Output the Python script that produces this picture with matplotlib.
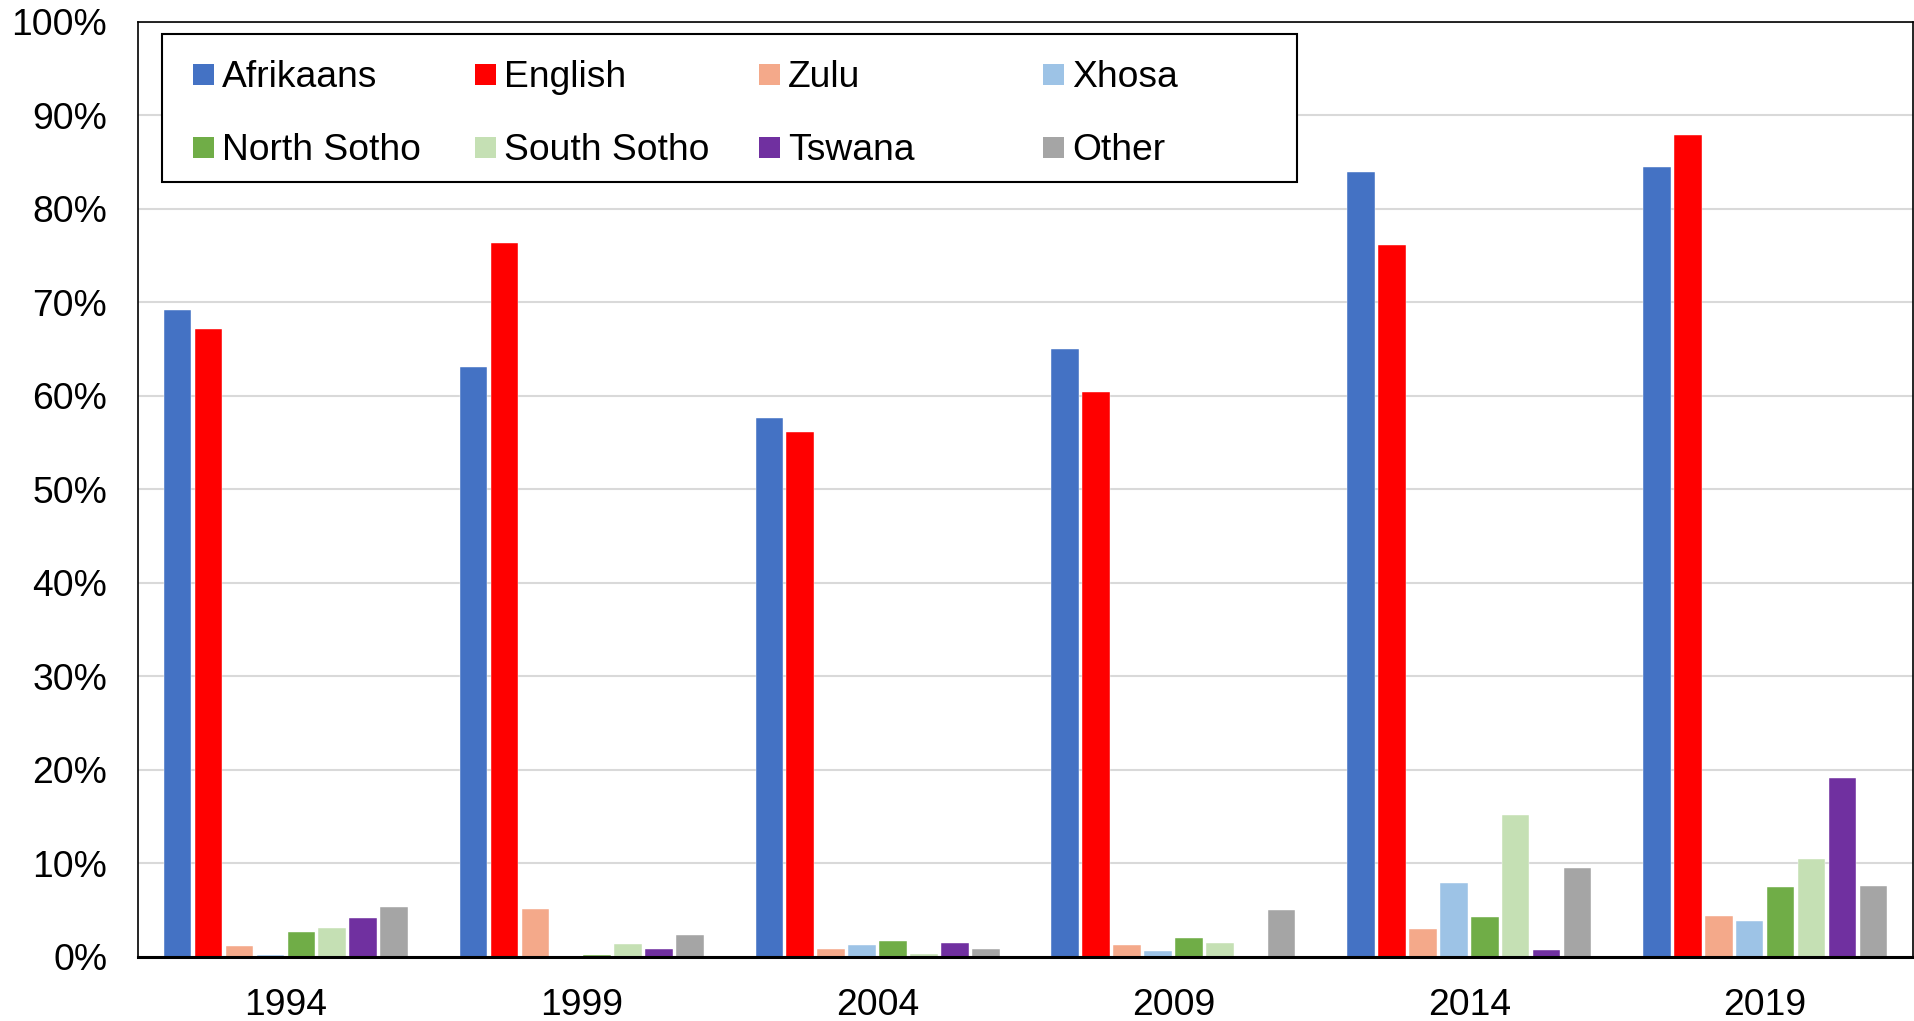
#!/usr/bin/env python
"""
Grouped bar chart: share by language per election year
"""

import numpy as np
import matplotlib
matplotlib.use("Agg")
import matplotlib.pyplot as plt
from matplotlib.patches import Rectangle
from matplotlib.ticker import PercentFormatter

plt.rcParams["font.family"] = ["Liberation Sans", "DejaVu Sans"]

years = ["1994", "1999", "2004", "2009", "2014", "2019"]
languages = ["Afrikaans", "English", "Zulu", "Xhosa",
             "North Sotho", "South Sotho", "Tswana", "Other"]

# values in percent, one list per language
afrikaans = [69.2, 63.1, 57.6, 65.0, 83.9, 84.5]
english = [67.2, 76.4, 56.1, 60.4, 76.1, 87.9]
zulu = [1.2, 5.1, 0.9, 1.3, 3.0, 4.4]
xhosa = [0.25, 0.15, 1.25, 0.6, 7.9, 3.8]
north_sotho = [2.7, 0.2, 1.75, 2.0, 4.25, 7.5]
south_sotho = [3.1, 1.4, 0.35, 1.5, 15.2, 10.5]
tswana = [4.2, 0.9, 1.5, 0.0, 0.8, 19.1]
other = [5.3, 2.4, 0.9, 5.0, 9.5, 7.6]

series = [afrikaans, english, zulu, xhosa, north_sotho, south_sotho, tswana, other]
colors = ["#4472C4", "#FF0000", "#F4A98A", "#9DC3E6",
          "#70AD47", "#C5E0B4", "#7030A0", "#A5A5A5"]

FONT_SIZE = 26.8
PITCH = 0.1045
BAR_WIDTH = 0.093


def main():
    fig = plt.figure(figsize=(19.15, 10.21), dpi=100)
    ax = fig.add_axes([0.072, 0.0627, 0.927, 0.9158])

    x = np.arange(len(years))
    n = len(series)
    for i, (vals, col) in enumerate(zip(series, colors)):
        offset = (i - (n - 1) / 2) * PITCH
        ax.bar(x + offset, np.array(vals) / 100.0, width=BAR_WIDTH,
               color=col, edgecolor="white", linewidth=0.3, zorder=3)

    ax.set_xlim(-0.5, len(years) - 0.5)
    ax.set_ylim(0, 1.0)
    ax.set_yticks(np.arange(0, 1.01, 0.1))
    ax.yaxis.set_major_formatter(PercentFormatter(1.0, decimals=0))
    ax.set_xticks(x)
    ax.set_xticklabels(years)
    ax.tick_params(axis="both", length=0, labelsize=FONT_SIZE)
    ax.tick_params(axis="y", pad=22)
    ax.tick_params(axis="x", pad=22)

    ax.grid(axis="y", color="#D9D9D9", linewidth=1.5, zorder=0)
    for side in ["left", "top", "right"]:
        ax.spines[side].set_linewidth(1.2)
        ax.spines[side].set_color("black")
    ax.spines["bottom"].set_linewidth(2.2)
    ax.spines["bottom"].set_zorder(4)

    # legend drawn by hand, Excel-like fixed columns
    ax.add_patch(Rectangle((0.0135, 0.829), 0.6395, 0.158, transform=ax.transAxes,
                           facecolor="white", edgecolor="black", linewidth=1.5,
                           zorder=5))
    col_x = [0.031, 0.190, 0.350, 0.510]
    row_y = [0.944, 0.866]
    sq_w = 21 / 1775
    sq_h = 21 / 935
    for i, (name, col) in enumerate(zip(languages, colors)):
        cx = col_x[i % 4]
        cy = row_y[i // 4]
        ax.add_patch(Rectangle((cx, cy - sq_h / 2), sq_w, sq_h,
                               transform=ax.transAxes, facecolor=col,
                               edgecolor="none", zorder=6))
        ax.text(cx + 29 / 1775, cy - 0.003, name, transform=ax.transAxes,
                fontsize=FONT_SIZE, va="center", ha="left", zorder=6)

    fig.savefig("out.png", dpi=100)


if __name__ == "__main__":
    main()
